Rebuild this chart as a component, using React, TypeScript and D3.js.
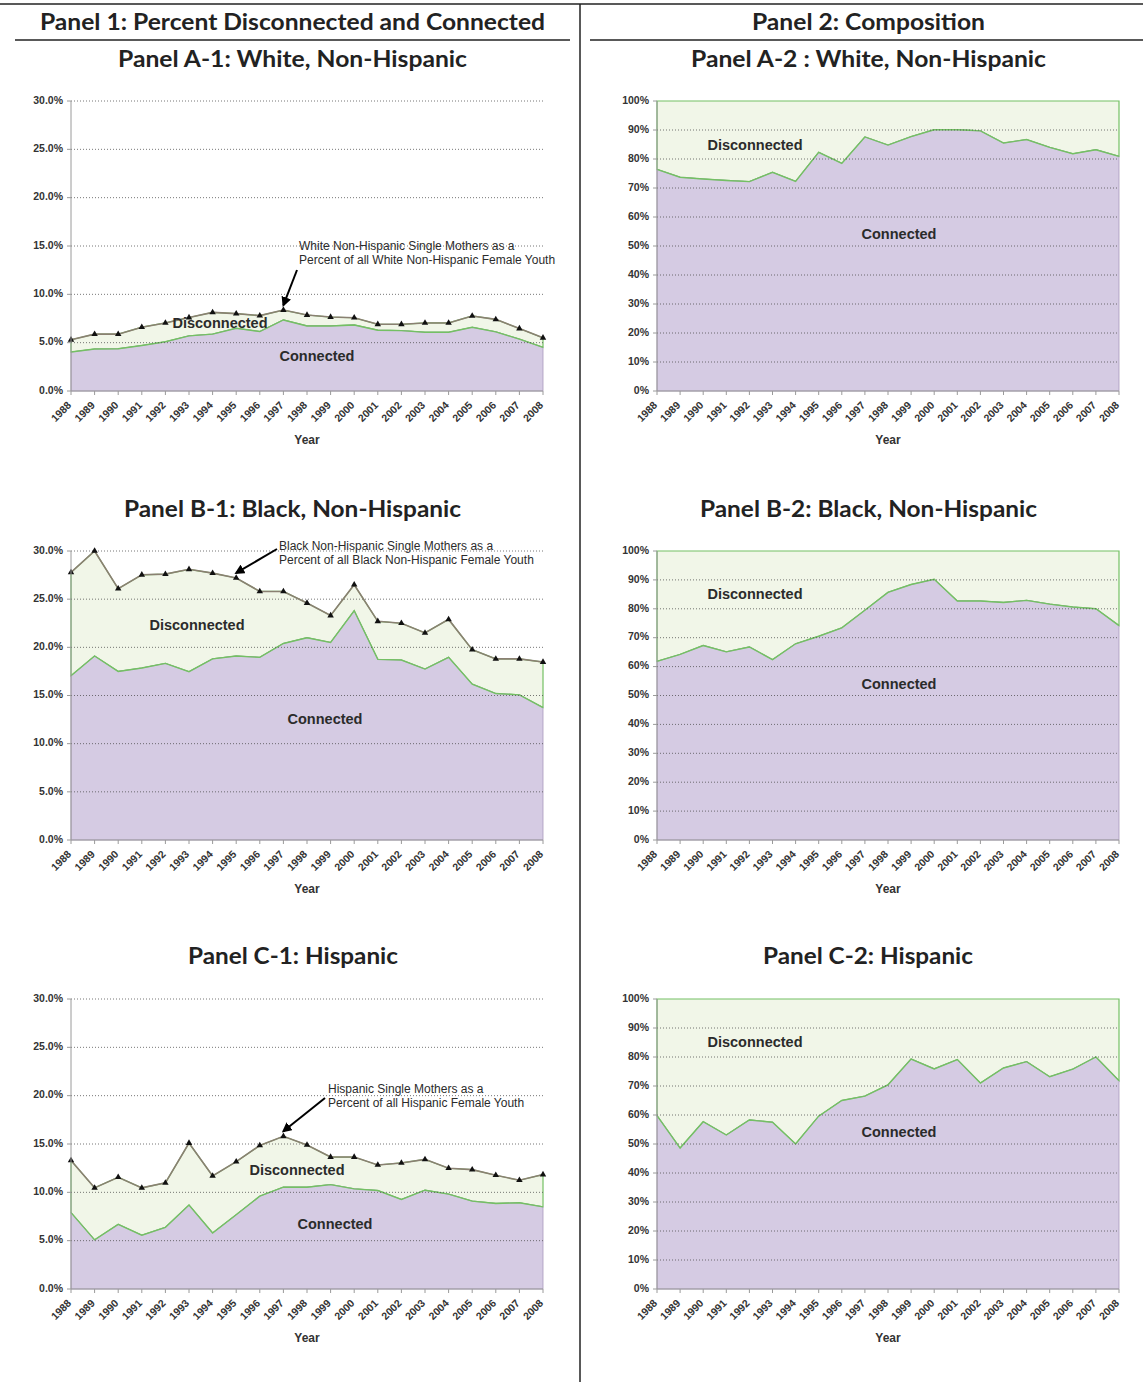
import React from "react";
import * as d3 from "d3";

const years = [1988, 1989, 1990, 1991, 1992, 1993, 1994, 1995, 1996, 1997, 1998, 1999, 2000, 2001, 2002, 2003, 2004, 2005, 2006, 2007, 2008];

// Panel 1: percent of female youth (single mothers), total and connected part
const whiteTotal = [5.3, 5.88, 5.88, 6.6, 7.04, 7.6, 8.13, 8.0, 7.8, 8.37, 7.86, 7.65, 7.58, 6.9, 6.9, 7.04, 7.04, 7.76, 7.41, 6.46, 5.5];
const whiteConnected = [4.03, 4.34, 4.37, 4.71, 5.09, 5.7, 5.88, 6.49, 6.15, 7.35, 6.73, 6.73, 6.83, 6.29, 6.25, 6.08, 6.08, 6.59, 6.12, 5.36, 4.51];
const blackTotal = [27.78, 30.0, 26.08, 27.53, 27.6, 28.1, 27.7, 27.2, 25.8, 25.8, 24.6, 23.3, 26.5, 22.7, 22.5, 21.5, 22.9, 19.76, 18.8, 18.8, 18.47];
const blackConnected = [17.05, 19.1, 17.5, 17.85, 18.33, 17.47, 18.8, 19.1, 18.96, 20.4, 21.0, 20.5, 23.8, 18.75, 18.68, 17.74, 18.96, 16.18, 15.2, 15.07, 13.75];
const hispTotal = [13.3, 10.46, 11.56, 10.46, 10.98, 15.1, 11.7, 13.17, 14.85, 15.8, 14.9, 13.65, 13.65, 12.83, 13.04, 13.41, 12.49, 12.35, 11.77, 11.25, 11.84];
const hispConnected = [7.9, 5.08, 6.69, 5.56, 6.38, 8.68, 5.8, 7.68, 9.6, 10.53, 10.53, 10.8, 10.36, 10.19, 9.26, 10.22, 9.81, 9.09, 8.85, 8.92, 8.5];

// Panel 2: composition, connected share (%)
const whiteShare = [76.4, 73.7, 73.1, 72.6, 72.2, 75.4, 72.3, 82.3, 78.5, 87.6, 84.8, 87.7, 90.1, 90.1, 89.7, 85.5, 86.7, 84.0, 81.8, 83.2, 80.9];
const blackShare = [61.8, 64.2, 67.3, 65.1, 66.8, 62.4, 67.9, 70.5, 73.4, 79.5, 85.7, 88.4, 90.2, 82.7, 82.7, 82.2, 82.9, 81.6, 80.6, 80.0, 74.2];
const hispShare = [59.8, 48.6, 57.7, 53.1, 58.3, 57.5, 50.0, 59.6, 65.0, 66.5, 70.4, 79.3, 75.9, 79.1, 71.0, 76.2, 78.4, 73.2, 75.8, 80.0, 71.8];

const leftTicks = [0, 5, 10, 15, 20, 25, 30];
const rightTicks = [0, 10, 20, 30, 40, 50, 60, 70, 80, 90, 100];

const FT = "Lato, 'Open Sans', sans-serif";
const FA = "'Liberation Sans', Arial, Helvetica, sans-serif";

const C_CONN = "#d5cbe3";
const C_DISC = "#f1f6e8";
const C_GREEN = "#74c064";
const C_TOTAL = "#8a8072";
const C_TXT = "#2b2b2b";

type Ann = { lines: string[]; tx: number; ty: number; sx: number; sy: number; year: number };

type PanelProps = {
  x0: number; x1: number; yTop: number; yBot: number;
  max: number; ticks: number[]; fmt: (v: number) => string;
  connected: number[]; total?: number[];
  disc: [number, number]; conn: [number, number];
  ann?: Ann;
};

function Panel(p: PanelProps) {
  const x = d3.scaleLinear().domain([1988, 2008]).range([p.x0, p.x1]);
  const y = d3.scaleLinear().domain([0, p.max]).range([p.yBot, p.yTop]);
  const top = p.total ?? years.map(() => p.max);
  const connArea = d3.area<number>().x((_, i) => x(years[i])).y0(y(0)).y1((d) => y(d))(p.connected) || "";
  const discArea = d3.area<number>().x((_, i) => x(years[i])).y0((_, i) => y(p.connected[i])).y1((d) => y(d))(top) || "";
  const connLine = d3.line<number>().x((_, i) => x(years[i])).y((d) => y(d))(p.connected) || "";
  const totalLine = p.total ? d3.line<number>().x((_, i) => x(years[i])).y((d) => y(d))(p.total) || "" : "";
  const tri = d3.symbol().type(d3.symbolTriangle).size(18)() || "";
  const grid = p.ticks.filter((t) => t > 0 && (p.total ? true : t < p.max));
  let annEl = null;
  if (p.ann && p.total) {
    const i = years.indexOf(p.ann.year);
    const ex = x(p.ann.year);
    const ey = y(p.total[i]) - 5;
    annEl = (
      <g>
        {p.ann.lines.map((l, k) => (
          <text key={k} x={p.ann!.tx} y={p.ann!.ty + k * 14} fontFamily={FA} fontSize={12} fill={C_TXT} dominantBaseline="middle">{l}</text>
        ))}
        <line x1={p.ann.sx} y1={p.ann.sy} x2={ex} y2={ey} stroke="#000" strokeWidth={2} markerEnd="url(#arrowhead)" />
      </g>
    );
  }
  return (
    <g>
      <path d={discArea} fill={C_DISC} stroke={C_GREEN} strokeWidth={1.2} />
      <path d={connArea} fill={C_CONN} stroke="#a99bbd" strokeWidth={0.8} />
      <path d={connLine} fill="none" stroke={C_GREEN} strokeWidth={1.4} />
      {grid.map((t) => (
        <line key={t} x1={p.x0} x2={p.x1} y1={y(t)} y2={y(t)} stroke="#4a4a4a" strokeOpacity={0.75} strokeWidth={1} strokeDasharray="1,2" />
      ))}
      {totalLine && <path d={totalLine} fill="none" stroke={C_TOTAL} strokeWidth={1.6} />}
      {p.total && p.total.map((v, i) => (
        <path key={i} d={tri} transform={`translate(${x(years[i])},${y(v)})`} fill="#111" />
      ))}
      <line x1={p.x0} x2={p.x0} y1={p.yTop} y2={p.yBot} stroke="#9a9a9a" strokeWidth={1} />
      <line x1={p.x0} x2={p.x1} y1={p.yBot} y2={p.yBot} stroke="#9a9a9a" strokeWidth={1} />
      {p.ticks.map((t) => (
        <g key={t}>
          <line x1={p.x0 - 4} x2={p.x0} y1={y(t)} y2={y(t)} stroke="#9a9a9a" />
          <text x={p.x0 - 8} y={y(t)} textAnchor="end" dominantBaseline="middle" fontFamily={FA} fontWeight="bold" fontSize={10.5} fill="#333">{p.fmt(t)}</text>
        </g>
      ))}
      {years.map((yr) => (
        <g key={yr}>
          <line x1={x(yr)} x2={x(yr)} y1={p.yBot} y2={p.yBot + 4} stroke="#9a9a9a" />
          <text transform={`translate(${x(yr) - 1},${p.yBot + 13}) rotate(-45)`} textAnchor="end" dominantBaseline="middle" fontFamily={FA} fontWeight="bold" fontSize={10.5} fill="#333">{yr}</text>
        </g>
      ))}
      <text x={(p.x0 + p.x1) / 2} y={p.yBot + 50} textAnchor="middle" dominantBaseline="middle" fontFamily={FA} fontWeight="bold" fontSize={12} fill="#333">Year</text>
      <text x={p.disc[0]} y={p.disc[1]} textAnchor="middle" dominantBaseline="middle" fontFamily={FA} fontWeight="bold" fontSize={14.5} fill={C_TXT}>Disconnected</text>
      <text x={p.conn[0]} y={p.conn[1]} textAnchor="middle" dominantBaseline="middle" fontFamily={FA} fontWeight="bold" fontSize={14.5} fill={C_TXT}>Connected</text>
      {annEl}
    </g>
  );
}

const LX0 = 71, LX1 = 543, RX0 = 657, RX1 = 1119;
const rows = [{ top: 101, bot: 391 }, { top: 551, bot: 840 }, { top: 999, bot: 1289 }];
const fmtL = (v: number) => d3.format(".1f")(v) + "%";
const fmtR = (v: number) => v + "%";

function Title({ x, y, text, w }: { x: number; y: number; text: string; w: number }) {
  return (
    <text x={x} y={y} textAnchor="middle" dominantBaseline="middle" fontFamily={FT} fontWeight="bold" fontSize={23} fill="#222" textLength={w} lengthAdjust="spacingAndGlyphs">{text}</text>
  );
}

export default function App() {
  return (
    <svg width={1143} height={1382} style={{ position: "absolute", left: 0, top: 0, background: "#fff" }}>
      <defs>
        <marker id="arrowhead" viewBox="0 0 10 10" refX="8" refY="5" markerWidth="5" markerHeight="5" orient="auto">
          <path d="M0,0 L10,5 L0,10 z" fill="#000" />
        </marker>
      </defs>
      <rect x={0} y={0} width={1143} height={1382} fill="#fff" />
      <line x1={0} x2={1143} y1={4} y2={4} stroke="#222" strokeWidth={1.5} />
      <line x1={580} x2={580} y1={4} y2={1382} stroke="#222" strokeWidth={1.5} />
      <line x1={15} x2={570} y1={40} y2={40} stroke="#222" strokeWidth={1.5} />
      <line x1={590} x2={1143} y1={40} y2={40} stroke="#222" strokeWidth={1.5} />
      <Title x={292.5} y={24} w={505} text="Panel 1: Percent Disconnected and Connected" />
      <Title x={868.5} y={24} w={233} text="Panel 2: Composition" />
      <Title x={292.5} y={61} w={349} text="Panel A-1: White, Non-Hispanic" />
      <Title x={868.5} y={61} w={355} text="Panel A-2 : White, Non-Hispanic" />
      <Title x={292.5} y={511} w={337} text="Panel B-1: Black, Non-Hispanic" />
      <Title x={868.5} y={511} w={337} text="Panel B-2: Black, Non-Hispanic" />
      <Title x={293} y={958} w={210} text="Panel C-1: Hispanic" />
      <Title x={868} y={958} w={210} text="Panel C-2: Hispanic" />

      <Panel x0={LX0} x1={LX1} yTop={rows[0].top} yBot={rows[0].bot} max={30} ticks={leftTicks} fmt={fmtL}
        connected={whiteConnected} total={whiteTotal} disc={[220, 324]} conn={[317, 357]}
        ann={{ lines: ["White Non-Hispanic Single Mothers as a", "Percent of all White Non-Hispanic Female Youth"], tx: 299, ty: 247, sx: 297, sy: 270, year: 1997 }} />
      <Panel x0={RX0} x1={RX1} yTop={rows[0].top} yBot={rows[0].bot} max={100} ticks={rightTicks} fmt={fmtR}
        connected={whiteShare} disc={[755, 146]} conn={[899, 235]} />

      <Panel x0={LX0} x1={LX1} yTop={rows[1].top} yBot={rows[1].bot} max={30} ticks={leftTicks} fmt={fmtL}
        connected={blackConnected} total={blackTotal} disc={[197, 626]} conn={[325, 720]}
        ann={{ lines: ["Black Non-Hispanic Single Mothers as a", "Percent of all Black Non-Hispanic Female Youth"], tx: 279, ty: 547, sx: 277, sy: 549, year: 1995 }} />
      <Panel x0={RX0} x1={RX1} yTop={rows[1].top} yBot={rows[1].bot} max={100} ticks={rightTicks} fmt={fmtR}
        connected={blackShare} disc={[755, 595]} conn={[899, 685]} />

      <Panel x0={LX0} x1={LX1} yTop={rows[2].top} yBot={rows[2].bot} max={30} ticks={leftTicks} fmt={fmtL}
        connected={hispConnected} total={hispTotal} disc={[297, 1171]} conn={[335, 1225]}
        ann={{ lines: ["Hispanic Single Mothers as a", "Percent of all Hispanic Female Youth"], tx: 328, ty: 1090, sx: 325, sy: 1098, year: 1997 }} />
      <Panel x0={RX0} x1={RX1} yTop={rows[2].top} yBot={rows[2].bot} max={100} ticks={rightTicks} fmt={fmtR}
        connected={hispShare} disc={[755, 1043]} conn={[899, 1133]} />
    </svg>
  );
}
